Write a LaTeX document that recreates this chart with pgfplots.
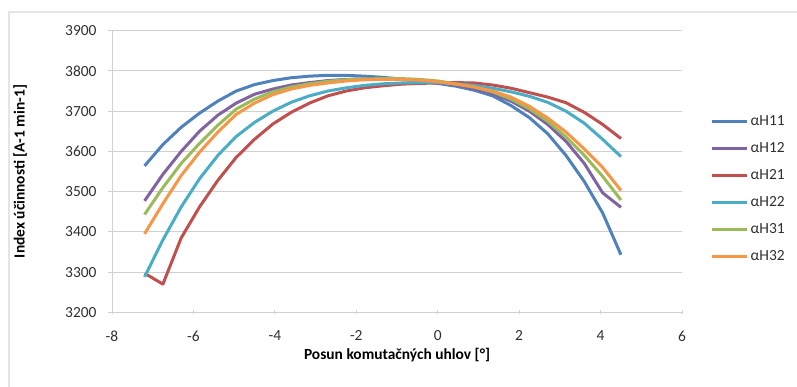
\documentclass[border=0pt]{standalone}
\usepackage{pgfplots}
\pgfplotsset{compat=1.18}
\usepackage{fontspec}
\setmainfont{Carlito}
\definecolor{cB}{HTML}{4F81BD}
\definecolor{cP}{HTML}{8064A2}
\definecolor{cR}{HTML}{C0504D}
\definecolor{cC}{HTML}{4BACC6}
\definecolor{cG}{HTML}{9BBB59}
\definecolor{cO}{HTML}{F79646}
\definecolor{gridc}{HTML}{D0D0D0}
\definecolor{txt}{HTML}{303030}
\begin{document}
\begin{tikzpicture}
\path[use as bounding box] (0,0) rectangle (797bp,387bp);
\draw[gray!20, line width=1.5bp] (9bp,-10bp) -- (9bp,375bp) -- (810bp,375bp);
\begin{axis}[
  at={(112bp,74.7bp)}, anchor=south west,
  scale only axis, width=570bp, height=281.6bp,
  xmin=-8, xmax=6, ymin=3200, ymax=3900,
  xtick={-8,-6,...,6}, ytick={3200,3300,...,3900},
  axis x line=bottom, axis y line=left,
  axis line style={gridc, line width=1bp, -},
  tick align=outside, major tick length=4bp,
  tick style={gridc, line width=1bp},
  xtick style={yshift=2bp},
  ymajorgrids, grid style={gridc, line width=1bp},
  /pgf/number format/assume math mode=true,
  /pgf/number format/.cd, 1000 sep={}, /pgfplots/.cd,
  ticklabel style={font=\fontsize{15.5}{17}\selectfont, text=txt},
  yticklabel style={xshift=-8bp},
  xticklabel style={yshift=-11bp},
  xlabel={\textbf{Posun komutačných uhlov [°]}},
  ylabel={\textbf{Index účinnosti [A-1 min-1]}},
  xlabel style={at={(axis description cs:0.5,-0.152)}, anchor=center, font=\fontsize{15.5}{17}\selectfont, text=black},
  ylabel style={at={(axis description cs:-0.161,0.5)}, rotate=0, anchor=center, font=\fontsize{15.5}{17}\selectfont, text=black},
  legend style={draw=none, at={(1.05,0.705)}, anchor=north west,
    font=\fontsize{15.5}{17}\selectfont, text=txt, row sep=11.5bp, inner sep=0pt},
  legend cell align=left,
  legend image code/.code={\draw[#1] (0bp,0bp) -- (35bp,0bp);},
  every axis plot/.append style={line width=3bp, line join=round},
]
\addplot[cB] coordinates {(-7.2,3564)(-6.75,3617)(-6.3,3660)(-5.85,3695)(-5.4,3725)(-4.95,3750)(-4.5,3766)(-4.05,3776)(-3.6,3783)(-3.15,3787)(-2.7,3789)(-2.25,3789)(-1.8,3787)(-1.35,3784)(-0.9,3780)(-0.45,3775)(0,3769)(0.45,3762)(0.9,3752)(1.35,3738)(1.8,3714)(2.25,3684)(2.7,3644)(3.15,3590)(3.6,3525)(4.05,3447)(4.5,3343)};
\addlegendentry{αH11}
\addplot[cP] coordinates {(-7.2,3477)(-6.75,3543)(-6.3,3600)(-5.85,3650)(-5.4,3690)(-4.95,3720)(-4.5,3742)(-4.05,3755)(-3.6,3765)(-3.15,3771)(-2.7,3776)(-2.25,3779)(-1.8,3780)(-1.35,3780)(-0.9,3779)(-0.45,3776)(0,3772)(0.45,3765)(0.9,3756)(1.35,3743)(1.8,3725)(2.25,3700)(2.7,3667)(3.15,3625)(3.6,3570)(4.05,3497)(4.5,3461)};
\addlegendentry{αH12}
\addplot[cR] coordinates {(-7.2,3297)(-6.75,3270)(-6.3,3385)(-5.85,3462)(-5.4,3528)(-4.95,3585)(-4.5,3630)(-4.05,3668)(-3.6,3697)(-3.15,3720)(-2.7,3738)(-2.25,3750)(-1.8,3758)(-1.35,3763)(-0.9,3767)(-0.45,3769)(0,3770)(0.45,3771)(0.9,3770)(1.35,3765)(1.8,3757)(2.25,3746)(2.7,3735)(3.15,3721)(3.6,3697)(4.05,3667)(4.5,3632)};
\addlegendentry{αH21}
\addplot[cC] coordinates {(-7.2,3288)(-6.75,3380)(-6.3,3462)(-5.85,3532)(-5.4,3590)(-4.95,3637)(-4.5,3672)(-4.05,3700)(-3.6,3722)(-3.15,3738)(-2.7,3750)(-2.25,3758)(-1.8,3764)(-1.35,3768)(-0.9,3770)(-0.45,3771)(0,3771)(0.45,3768)(0.9,3764)(1.35,3757)(1.8,3748)(2.25,3737)(2.7,3722)(3.15,3700)(3.6,3670)(4.05,3630)(4.5,3587)};
\addlegendentry{αH22}
\addplot[cG] coordinates {(-7.2,3443)(-6.75,3510)(-6.3,3570)(-5.85,3620)(-5.4,3665)(-4.95,3705)(-4.5,3730)(-4.05,3748)(-3.6,3760)(-3.15,3768)(-2.7,3774)(-2.25,3778)(-1.8,3780)(-1.35,3781)(-0.9,3781)(-0.45,3779)(0,3775)(0.45,3768)(0.9,3760)(1.35,3748)(1.8,3730)(2.25,3706)(2.7,3675)(3.15,3636)(3.6,3590)(4.05,3538)(4.5,3479)};
\addlegendentry{αH31}
\addplot[cO] coordinates {(-7.2,3395)(-6.75,3470)(-6.3,3540)(-5.85,3598)(-5.4,3648)(-4.95,3692)(-4.5,3720)(-4.05,3741)(-3.6,3755)(-3.15,3764)(-2.7,3770)(-2.25,3775)(-1.8,3778)(-1.35,3779)(-0.9,3779)(-0.45,3777)(0,3773)(0.45,3767)(0.9,3760)(1.35,3750)(1.8,3735)(2.25,3712)(2.7,3683)(3.15,3648)(3.6,3606)(4.05,3560)(4.5,3503)};
\addlegendentry{αH32}
\end{axis}
\end{tikzpicture}
\end{document}
